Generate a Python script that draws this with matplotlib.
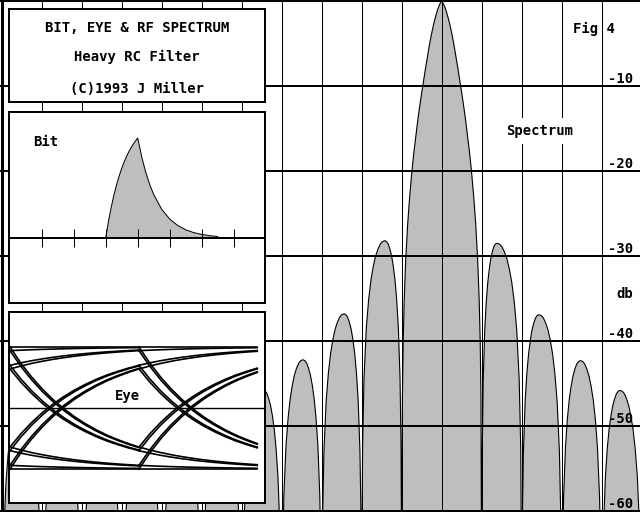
import matplotlib
matplotlib.use("Agg")
import matplotlib.pyplot as plt
import numpy as np

# ---- data ----
# main lobe: offset from centre (bit-rate units) -> dB
main_off = [0, 0.05, 0.1, 0.15, 0.2, 0.25, 0.3, 0.35, 0.4, 0.45, 0.5, 0.55, 0.6,
            0.65, 0.7, 0.75, 0.8, 0.85, 0.9, 0.9375, 0.9625, 0.9825, 1.0]
main_db = [0, -0.4, -1.0, -1.8, -2.7, -3.8, -5.0, -6.4, -7.8, -9.3, -10.8, -12.4,
           -14.1, -16.0, -18.0, -20.3, -23.0, -26.2, -30.5, -35.2, -40.0, -46.8, -75.0]

# side lobes: peak position and level
right_pos = [1.38, 2.43, 3.47, 4.46]
right_db = [-28.5, -36.9, -42.3, -45.8]
left_pos = [-1.42, -2.44, -3.47, -4.47, -5.47, -6.47, -7.47, -8.47, -9.47, -10.47, -11.47]
left_db = [-28.2, -36.8, -42.2, -45.7, -48.0, -49.2, -49.8, -49.8, -49.3, -46.5, -45.0]

# shape of one half of a side lobe (fraction of lobe width -> dB below peak)
arch_t = [0.0, 0.005, 0.02, 0.05, 0.1, 0.15, 0.2, 0.25, 0.3, 0.35, 0.4, 0.45, 0.5]
arch_db = [-60, -36, -24, -16.1, -10.2, -6.9, -4.6, -3.0, -1.8, -1.0, -0.4, -0.1, 0]

db_ticks = [-10, -20, -30, -40, -50, -60]

# single bit after the RC filter (bit periods -> height)
bit_t = [0, 0.0833, 0.1667, 0.25, 0.3333, 0.4167, 0.5, 0.5833, 0.6667, 0.75, 0.8333,
         0.9167, 1.0, 1.125, 1.25, 1.375, 1.5, 1.75, 2.0, 2.25, 2.5, 2.75, 3.0, 3.25, 3.5]
bit_h = [0, 0.160, 0.299, 0.420, 0.525, 0.617, 0.697, 0.766, 0.827, 0.880, 0.925,
         0.965, 1.0, 0.812, 0.659, 0.535, 0.435, 0.287, 0.189, 0.125, 0.082, 0.054,
         0.036, 0.023, 0.015]
bit_ticks = [-2, -1, 0, 1, 2, 3, 4]

# eye traces: level at start and end of one bit period
eye_start = [1.00, 0.94, 0.70, 0.64, 1.00, 0.94, 0.70, 0.64,
             -1.00, -0.94, -0.70, -0.64, -1.00, -0.94, -0.70, -0.64]
eye_end = [1.00, 0.99, 0.95, 0.94, -0.64, -0.65, -0.69, -0.70,
           -1.00, -0.99, -0.95, -0.94, 0.64, 0.65, 0.69, 0.70]

title_lines = ["BIT, EYE & RF SPECTRUM", "Heavy RC Filter", "(C)1993 J Miller"]

GRAY = "#bebebe"
FONT = dict(family="DejaVu Sans Mono", weight="bold", size=10)
PX = 0.72  # points per pixel


def lobe(n0, n1, p, peak):
    t = np.array(arch_t) / 0.5
    d = peak + np.array(arch_db)
    x = np.concatenate([n0 + (p - n0) * t, (n1 - (n1 - p) * t)[::-1]])
    y = np.concatenate([d, d[::-1]])
    return x, y


fig = plt.figure(figsize=(6.4, 5.12), dpi=100)
ax = fig.add_axes([0, 0, 1, 1])
ax.set_xlim(-441.7 / 40, (640 - 441.7) / 40)
ax.set_ylim(-60.1, 0.1)
ax.axis("off")

xs, ys = [], []
for k in range(len(left_pos), 0, -1):
    x, y = lobe(-(k + 1), -k, left_pos[k - 1], left_db[k - 1])
    xs.append(x); ys.append(y)
mo = np.array(main_off); md = np.array(main_db)
xs.append(np.concatenate([-mo[::-1], mo[1:]]))
ys.append(np.concatenate([md[::-1], md[1:]]))
for k in range(1, len(right_pos) + 1):
    x, y = lobe(k, k + 1, right_pos[k - 1], right_db[k - 1])
    xs.append(x); ys.append(y)
sx = np.concatenate(xs); sy = np.concatenate(ys)
ax.fill_between(sx, sy, -100, facecolor=GRAY, lw=0, zorder=1)
ax.plot(sx, sy, color="black", lw=0.8, zorder=2)

for f in range(-11, 5):
    ax.axvline(f, color="black", lw=2.2 if f == -11 else PX, zorder=3)
for d in [0] + db_ticks:
    ax.axhline(d, color="black", lw=2 * PX, zorder=3)

for d in db_ticks:
    ax.text(4.78, d + 0.35, str(d), ha="right", va="baseline", zorder=4, **FONT)
ax.text(4.78, -34.5, "db", ha="right", va="center", zorder=4, **FONT)
ax.text(3.28, -3.75, "Fig 4", ha="left", va="baseline", zorder=4, **FONT)
ax.text(2.445, -15.3, "Spectrum", ha="center", va="center", zorder=4,
        bbox=dict(facecolor="white", edgecolor="none", pad=4), **FONT)


def panel(top, bottom):
    a = fig.add_axes([9 / 640, (512 - bottom) / 512, 256 / 640, (bottom - top) / 512])
    a.set_facecolor("white")
    for s in a.spines.values():
        s.set_linewidth(2 * PX)
    a.set_xticks([]); a.set_yticks([])
    return a


# title box
tb = panel(9, 102)
for txt, yb in zip(title_lines, [0.753, 0.441, 0.097]):
    tb.text(0.5, yb, txt, ha="center", va="baseline", transform=tb.transAxes, **FONT)

# bit box
bb = panel(112, 303)
bb.set_xlim((9 - 105.7) / 32, (265 - 105.7) / 32)
bb.set_ylim(-0.65, 1.26)
bb.fill_between(bit_t, bit_h, 0, facecolor=GRAY, lw=0)
bb.plot(bit_t, bit_h, color="black", lw=PX)
bb.axhline(0, color="black", lw=2 * PX)
bb.vlines(bit_ticks, -0.09, 0.09, color="black", lw=PX)
bb.text(-2.27, 0.92, "Bit", ha="left", va="baseline", **FONT)

# eye box
eb = panel(312, 503)
eb.set_xlim((9 - 10) / 129, (265 - 10) / 129)
eb.set_ylim((408 - 503) / 61, (408 - 312) / 61)
eb.axhline(0.0, color="black", lw=1.4 * PX)
rt = np.array(bit_t[:13]); rh = np.array(bit_h[:13])
for i in range(2):
    n = 13 if i == 0 else 12
    for v0, v1 in zip(eye_start, eye_end):
        eb.plot(i + rt[:n], v0 + (v1 - v0) * rh[:n], color="black", lw=1.2)
eb.text(0.91, 0.13, "Eye", ha="center", va="baseline", **FONT)

fig.savefig("out.png", dpi=100)
